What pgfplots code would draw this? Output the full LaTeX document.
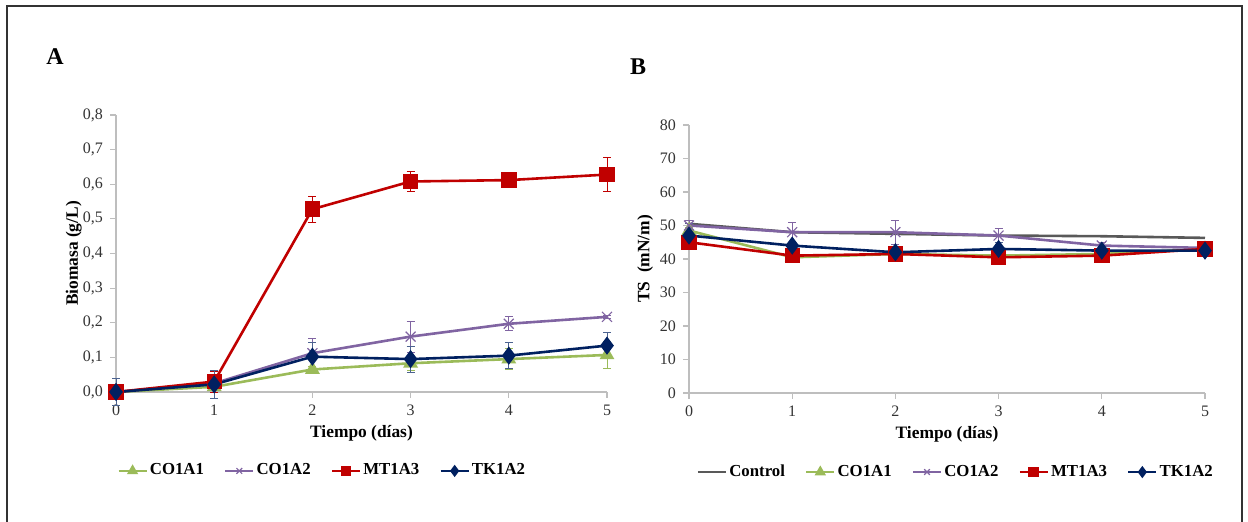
\documentclass[border=0pt]{standalone}
\usepackage{pgfplots}
\pgfplotsset{compat=1.18}
\usepackage{fontspec}
\setmainfont{Liberation Serif}
\definecolor{cred}{RGB}{192,0,0}
\definecolor{cpur}{RGB}{128,100,162}
\definecolor{cgrn}{RGB}{155,187,89}
\definecolor{cnav}{RGB}{0,32,96}
\definecolor{cgry}{RGB}{89,89,89}
\definecolor{caxis}{RGB}{190,190,190}
\pgfplotsset{
  mystyle/.style={
    scale only axis,
    axis lines=left,
    axis line style={draw=caxis, line width=0.6pt, -},
    xmin=0, xmax=5, xtick={0,1,2,3,4,5},
    tick style={draw=caxis, line width=0.6pt},
    tick align=outside,
    major tick length=3pt,
    tick label style={font=\fontsize{8}{9}\selectfont, text=black!80},
    /pgf/number format/assume math mode=true,
    label style={font=\bfseries\fontsize{8.7}{10}\selectfont},
    xlabel={Tiempo (días)},
    xlabel style={yshift=2pt},
    legend columns=-1,
    legend style={draw=none, fill=none, font=\bfseries\fontsize{8.4}{10}\selectfont,
      /tikz/every even column/.append style={column sep=9pt},
      nodes={inner xsep=1pt}},
    legend cell align=left,
    legend image code/.code={\draw[mark repeat=2,mark phase=2] plot coordinates {(0pt,0pt) (7pt,0pt) (14pt,0pt)};},
    legend image post style={mark size=2pt},
    every axis plot/.append style={line width=1.3pt},
    error bars/error bar style={line width=0.4pt},
    error bars/error mark options={rotate=90, mark size=2pt, line width=0.4pt},
    clip=false,
  }
}
\begin{document}
\begin{tikzpicture}[x=1pt,y=1pt]
\path[use as bounding box] (0pt,0pt) rectangle (624pt,261pt);
\draw[black!80, line width=1pt] (3.5pt,-5pt) -- (3.5pt,258pt) -- (621pt,258pt) -- (621pt,-5pt);
\node[font=\bfseries\fontsize{12}{13}\selectfont] at (27.5pt,232.5pt) {A};
\node[font=\bfseries\fontsize{12}{13}\selectfont] at (319pt,227.5pt) {B};

% Panel A
\begin{axis}[mystyle,
  at={(58pt,65pt)}, anchor=south west,
  width=245.5pt, height=138.5pt,
  ymin=0, ymax=0.8, ytick={0,0.1,...,0.8},
  yticklabel style={/pgf/number format/.cd, fixed, fixed zerofill, precision=1, use comma},
  ylabel={Biomasa (g/L)},
  ylabel style={at={(axis description cs:-0.086,0.5)}, anchor=center},
  legend style={at={(axis description cs:0.42,-0.285)}, anchor=center},
]
\addplot[color=cgrn, mark=triangle*, mark size=3pt, mark options={solid},
  error bars/.cd, y dir=both, y explicit, error bar style={color=cgrn}]
  coordinates {(0,0) +- (0,0) (1,0.015) +- (0,0.01) (2,0.065) +- (0,0.01) (3,0.083) +- (0,0.02) (4,0.095) +- (0,0.03) (5,0.107) +- (0,0.04)};
\addlegendentry{CO1A1}
\addplot[color=cpur, mark=x, mark size=3.5pt, mark options={solid, line width=0.6pt},
  error bars/.cd, y dir=both, y explicit, error bar style={color=cpur}]
  coordinates {(0,0) +- (0,0) (1,0.025) +- (0,0.02) (2,0.112) +- (0,0.043) (3,0.16) +- (0,0.045) (4,0.197) +- (0,0.02) (5,0.217) +- (0,0.005)};
\addlegendentry{CO1A2}
\addplot[color=cred, mark=square*, mark size=3.2pt, mark options={solid},
  error bars/.cd, y dir=both, y explicit, error bar style={color=cred}]
  coordinates {(0,0) +- (0,0) (1,0.03) +- (0,0.03) (2,0.528) +- (0,0.038) (3,0.608) +- (0,0.03) (4,0.612) +- (0,0.005) (5,0.628) +- (0,0.05)};
\addlegendentry{MT1A3}
\addplot[color=cnav, mark=diamond*, mark size=3.5pt, mark options={solid},
  error bars/.cd, y dir=both, y explicit, error bar style={color=cnav!70}]
  coordinates {(0,0) +- (0,0.04) (1,0.022) +- (0,0.04) (2,0.102) +- (0,0.04) (3,0.095) +- (0,0.038) (4,0.105) +- (0,0.038) (5,0.134) +- (0,0.038)};
\addlegendentry{TK1A2}
\end{axis}

% Panel B
\begin{axis}[mystyle,
  at={(344.5pt,64.5pt)}, anchor=south west,
  width=258pt, height=134pt,
  ymin=0, ymax=80, ytick={0,10,...,80},
  ylabel={TS \ (mN/m)},
  ylabel style={at={(axis description cs:-0.085,0.5)}, anchor=center},
  legend style={at={(axis description cs:0.517,-0.295)}, anchor=center},
]
\addplot[color=cgry, mark=none]
  coordinates {(0,50.5) (1,48) (2,47.5) (3,47) (4,46.8) (5,46.3)};
\addlegendentry{Control}
\addplot[color=cgrn, mark=triangle*, mark size=3pt, mark options={solid},
  error bars/.cd, y dir=both, y explicit, error bar style={color=cgrn}]
  coordinates {(0,48.5) +- (0,1) (1,40.5) +- (0,0.5) (2,41.5) +- (0,0.5) (3,41) +- (0,0.5) (4,41.5) +- (0,0.5) (5,43) +- (0,1)};
\addlegendentry{CO1A1}
\addplot[color=cpur, mark=x, mark size=3.5pt, mark options={solid, line width=0.6pt},
  error bars/.cd, y dir=both, y explicit, error bar style={color=cpur}]
  coordinates {(0,50) +- (0,1.5) (1,48) +- (0,3) (2,48) +- (0,3.5) (3,47) +- (0,2) (4,44) +- (0,1) (5,43.3) +- (0,0.5)};
\addlegendentry{CO1A2}
\addplot[color=cred, mark=square*, mark size=3.2pt, mark options={solid},
  error bars/.cd, y dir=both, y explicit, error bar style={color=cred}]
  coordinates {(0,45) +- (0,1) (1,41) +- (0,0.5) (2,41.5) +- (0,0.5) (3,40.5) +- (0,0.5) (4,41) +- (0,0.5) (5,43) +- (0,0.5)};
\addlegendentry{MT1A3}
\addplot[color=cnav, mark=diamond*, mark size=3.5pt, mark options={solid},
  error bars/.cd, y dir=both, y explicit, error bar style={color=cnav!70}]
  coordinates {(0,47) +- (0,3.5) (1,44) +- (0,1) (2,42) +- (0,1) (3,43) +- (0,2) (4,42.5) +- (0,1) (5,42.5) +- (0,1)};
\addlegendentry{TK1A2}
\end{axis}
\end{tikzpicture}
\end{document}
